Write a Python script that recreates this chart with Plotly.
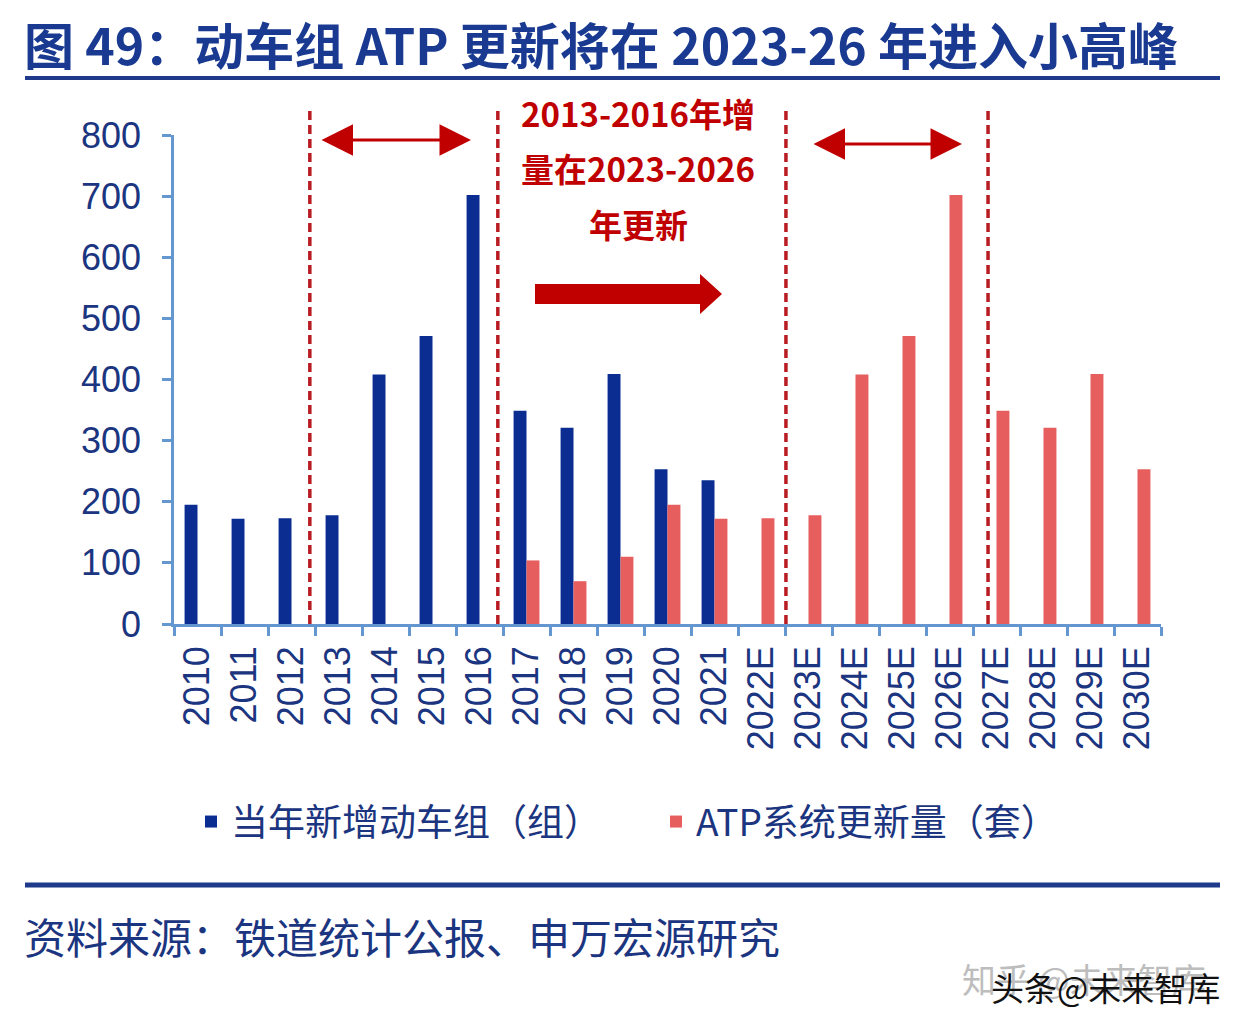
import plotly.graph_objects as go

# ---------------- data ----------------
categories = ["2010", "2011", "2012", "2013", "2014", "2015", "2016", "2017", "2018", "2019",
              "2020", "2021", "2022E", "2023E", "2024E", "2025E", "2026E", "2027E", "2028E",
              "2029E", "2030E"]
emu_new = [195, 172, 173, 178, 408, 471, 702, 349, 321, 409, 253, 235,
           None, None, None, None, None, None, None, None, None]
atp_update = [None, None, None, None, None, None, None, 104, 70, 110, 195, 172,
              173, 178, 408, 471, 702, 349, 321, 409, 253]
series_names = ["当年新增动车组（组）", "ATP系统更新量（套）"]
title_text = "图 49：动车组 ATP 更新将在 2023-26 年进入小高峰"
source_text = "资料来源：铁道统计公报、申万宏源研究"
note_lines = ["2013-2016年增", "量在2023-2026", "年更新"]
divider_positions = [2.39, 6.39, 12.52, 16.82]  # category-index positions of dashed dividers

# ---------------- style ----------------
OFF = 8  # page body margin
W, H = 1250 - OFF, 1030 - OFF
L, R, T, B = 174 - OFF, 1161 - OFF, 135 - OFF, 624 - OFF
NAVY = "#0B2C91"
RED_BAR = "#E65F5E"
DARK_RED = "#C00000"
TEXT_NAVY = "#1B3580"
AXIS_BLUE = "#6496CF"
CJK = "Noto Sans CJK SC"


def px(x):
    """screen x (reference pixels) -> paper x"""
    return (x - OFF - L) / (R - L)


def py(y):
    """screen y (reference pixels) -> paper y"""
    return (B - (y - OFF)) / (B - T)


fig = go.Figure()
fig.add_trace(go.Bar(x=categories, y=emu_new, name=series_names[0], marker_color=NAVY,
                     marker_line_width=0))
fig.add_trace(go.Bar(x=categories, y=atp_update, name=series_names[1], marker_color=RED_BAR,
                     marker_line_width=0))

shapes = []
for xp in divider_positions:
    shapes.append(dict(type="line", xref="x", yref="paper", x0=xp, x1=xp, y0=0, y1=py(108),
                       line=dict(color="#B81C22", width=3.5, dash="9px,5px"), layer="above"))
# header / footer rules
shapes.append(dict(type="line", xref="paper", yref="paper", x0=px(25), x1=px(1220),
                   y0=py(78), y1=py(78), line=dict(color="#1F3A8A", width=4)))
shapes.append(dict(type="line", xref="paper", yref="paper", x0=px(25), x1=px(1220),
                   y0=py(885), y1=py(885), line=dict(color="#1F3A8A", width=5)))
# big right arrow
pts = [(535, 284), (700, 284), (700, 274), (722, 294), (700, 314), (700, 304), (535, 304)]
path = "M " + " L ".join(f"{px(a):.5f},{py(b):.5f}" for a, b in pts) + " Z"
shapes.append(dict(type="path", xref="paper", yref="paper", path=path,
                   fillcolor=DARK_RED, line=dict(color=DARK_RED, width=0)))

annotations = []
# double-headed arrows
for x0, x1, yy in [(320, 471, 140), (812, 962, 144)]:
    annotations.append(dict(xref="paper", yref="paper", axref="pixel", ayref="pixel",
                            x=px(x1), y=py(yy), ax=-(x1 - x0), ay=0, text="",
                            showarrow=True, arrowhead=2, startarrowhead=2,
                            arrowside="end+start", arrowsize=2.1, startarrowsize=2.1,
                            arrowwidth=3, arrowcolor=DARK_RED))
# note text
for line, yy in zip(note_lines, [113, 168, 224]):
    annotations.append(dict(xref="paper", yref="paper", x=px(638), y=py(yy), text=f"<b>{line}</b>",
                            showarrow=False, xanchor="center", yanchor="middle",
                            font=dict(family=CJK, size=33, color=DARK_RED)))
# source
annotations.append(dict(xref="paper", yref="paper", x=px(22), y=py(935), text=source_text,
                        showarrow=False, xanchor="left", yanchor="middle",
                        font=dict(family=CJK, size=42, color=TEXT_NAVY)))
# watermark (two overlapping marks as in the reference)
annotations.append(dict(xref="paper", yref="paper", x=px(1084), y=py(978), text="知乎 @未来智库",
                        showarrow=False, xanchor="center", yanchor="middle",
                        font=dict(family=CJK, size=34, color="#BDBDBD")))
annotations.append(dict(xref="paper", yref="paper", x=px(1105), y=py(987), text="头条@未来智库",
                        showarrow=False, xanchor="center", yanchor="middle",
                        font=dict(family=CJK, size=33, color="#111111")))

fig.update_layout(
    width=W, height=H,
    margin=dict(l=L, r=W - R, t=T, b=H - B, pad=0),
    paper_bgcolor="white", plot_bgcolor="white",
    barmode="group", bargap=0.45, bargroupgap=0,
    title=dict(text=f"<b>{title_text}</b>", x=(24 - OFF) / W, xref="container", xanchor="left",
               y=1 - (47 - OFF) / H, yref="container", yanchor="middle",
               font=dict(family=CJK, size=50, color="#1A3A92")),
    xaxis=dict(type="category", tickson="boundaries", ticks="outside", ticklen=9,
               tickwidth=2.5, tickcolor=AXIS_BLUE, showline=True, linecolor=AXIS_BLUE,
               linewidth=2.5, tickangle=-90, ticklabelstandoff=5,
               tickfont=dict(family="Liberation Sans, Arial", size=36, color=TEXT_NAVY),
               showgrid=False, zeroline=False),
    yaxis=dict(range=[0, 800], dtick=100, ticks="outside", ticklen=9, tickwidth=2.5,
               tickcolor=AXIS_BLUE, showline=True, linecolor=AXIS_BLUE, linewidth=2.5,
               ticklabelstandoff=14,
               tickfont=dict(family="Liberation Sans, Arial", size=36, color=TEXT_NAVY),
               showgrid=False, zeroline=False),
    legend=dict(orientation="h", x=px(191), xanchor="left", y=py(822), yanchor="middle",
                entrywidth=420, entrywidthmode="pixels", traceorder="normal",
                font=dict(family=CJK, size=37, color=TEXT_NAVY), bgcolor="rgba(0,0,0,0)"),
    shapes=shapes,
    annotations=annotations,
)

fig.write_html("out.html")
